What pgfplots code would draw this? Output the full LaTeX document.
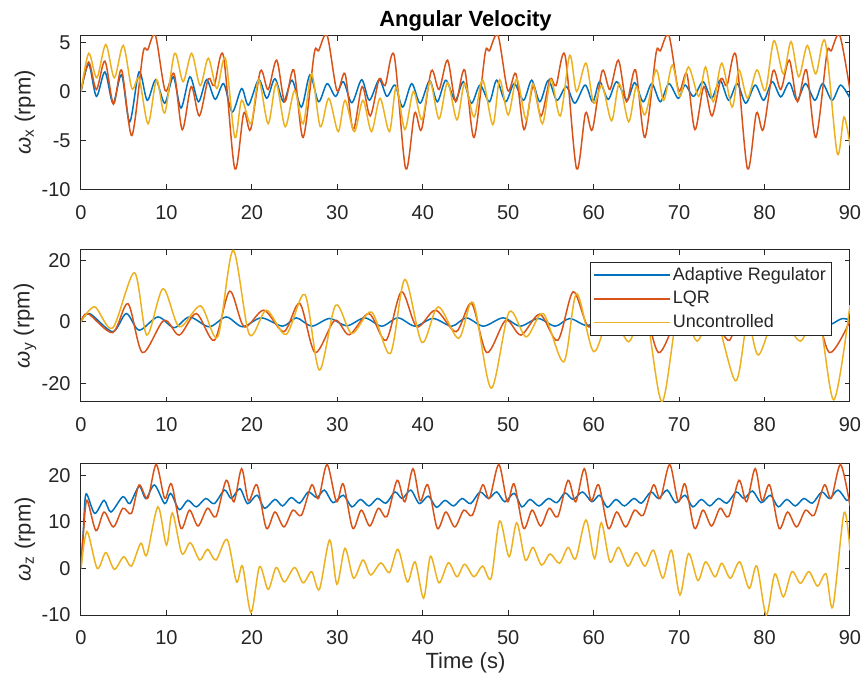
\documentclass[border=0pt]{standalone}
\usepackage{pgfplots}
\pgfplotsset{compat=1.18}
\usepackage{fontspec}
\setmainfont{Liberation Sans}

\definecolor{mblue}{rgb}{0,0.447,0.741}
\definecolor{mred}{rgb}{0.85,0.325,0.098}
\definecolor{myellow}{rgb}{0.929,0.694,0.125}
\definecolor{axgray}{rgb}{0.15,0.15,0.15}

\pgfplotsset{
  panel/.style={
    scale only axis, width=384.5pt,
    xmin=0, xmax=90, xtick={0,10,...,90},
    axis line style={axgray, line width=0.5pt},
    every tick/.style={axgray, line width=0.5pt},
    major tick length=2.5pt,
    tick align=inside,
    ticklabel style={font=\fontsize{10}{11}\selectfont, text=axgray},
    xticklabel style={yshift=-4.4pt},
    yticklabel style={xshift=-1.7pt},
    label style={font=\fontsize{11}{12}\selectfont, text=axgray},
    /pgf/number format/assume math mode=true,
    ylabel style={at={(axis description cs:-0.0728,0.5)}, anchor=center},
    every axis plot/.append style={line width=0.75pt, smooth, no markers},
  }
}

\begin{document}
\begin{tikzpicture}
\useasboundingbox (0pt,0pt) rectangle (432pt,-337.5pt);

% ---------------- omega_x ----------------
\begin{axis}[panel, height=76.8pt,
  at={(40.5pt,-94.65pt)}, anchor=south west,
  ymin=-10, ymax=5.7, ytick={-10,-5,0,5},
  ylabel={\textit{ω}\textsubscript{x} (rpm)},
  title={Angular Velocity},
  title style={font=\bfseries\fontsize{11}{12}\selectfont, text=black,
    at={(axis description cs:0.5,1)}, anchor=center, yshift=1.5pt},
]
\addplot[mblue] coordinates {
(0,0) (0.9,2.8) (1.8,-0.5) (2.8,2.0) (3.75,-1.2) (4.75,1.7) (5.7,-3.1) (6.8,2.0)
(7.75,-0.9) (8.75,1.2) (9.8,-1.2) (10.8,1.5) (11.7,-1.7) (12.75,1.5) (13.75,-1.05)
(14.7,1.2) (15.7,-0.8) (16.7,0.8) (17.7,-2.1) (18.8,0.3) (19.6,-1.4) (20.8,1.2)
(21.75,-0.7) (22.7,1.3) (23.7,-1.05) (24.7,1.15) (25.8,-1.6) (26.8,1.7) (27.8,-1.05)
(28.8,0.8) (29.8,-0.5) (30.7,1.0) (31.7,-1.15) (32.85,1.2) (33.75,-0.9) (34.9,1.2)
(35.8,-0.5) (36.75,0.65) (37.65,-1.6) (38.7,0.8) (39.7,-1.2) (40.8,1.1) (41.7,-1.05)
(42.7,1.15) (43.8,-0.9) (44.75,1.0) (45.7,-1.2) (46.7,0.65) (47.8,-1.05) (48.65,1.15)
(49.7,-1.05) (50.7,0.8) (51.8,-0.9) (52.75,1.15) (53.7,-1.05) (54.7,1.15) (55.7,-0.9)
(56.8,0.5) (57.8,-1.2) (59.0,0.65) (59.9,-1.05) (60.7,1.0) (61.7,-0.8) (62.7,1.0)
(63.9,-0.9) (64.8,0.9) (65.8,-1.05) (66.8,0.8) (67.8,-1.05) (68.8,0.8) (69.9,-0.7)
(70.7,0.65) (71.7,-0.5) (72.8,1.0) (73.8,-0.7) (74.8,1.15) (75.8,-0.9) (76.8,0.8)
(77.8,-1.2) (78.9,0.65) (79.9,-0.9) (80.9,1.0) (81.9,-0.55) (82.9,0.9) (83.8,-0.9)
(84.8,0.8) (85.9,-0.9) (86.8,0.8) (87.9,-0.9) (88.9,0.65) (90,-0.7)
};
\addplot[mred] coordinates {
(0,0) (0.9,3.0) (1.8,0.2) (2.8,3.1) (3.8,-1.3) (4.75,2.2) (5.95,-4.5) (7.25,3.9)
(7.8,4.25) (8.7,5.75) (9.85,0.1)
(10.9,1.8) (11.85,-3.9) (12.9,0.5) (13.85,-2.5) (14.9,1.3) (15.6,0.6) (16.65,3.7)
(18.0,-7.9) (19.05,-2.2) (19.85,-3.9) (21.0,2.1) (21.9,0.2) (22.9,3.2) (23.85,-1.05)
(24.9,2.2) (26.0,-4.7) (27.3,3.9) (27.8,4.15) (28.8,5.75) (29.95,0.1)
(30.9,1.8) (31.85,-3.9) (32.9,0.5) (33.85,-2.5) (34.9,1.3) (35.6,0.6) (36.65,3.7)
(38.0,-7.9) (39.05,-2.2) (39.85,-3.9) (41.0,2.1) (41.9,0.2) (42.9,3.2) (43.85,-1.05)
(44.9,2.2) (46.0,-4.7) (47.3,3.9) (47.8,4.15) (48.8,5.75) (49.95,0.1)
(50.9,1.8) (51.85,-3.9) (52.9,0.5) (53.85,-2.5) (54.9,1.3) (55.6,0.6) (56.65,3.7)
(58.0,-7.9) (59.05,-2.2) (59.85,-3.9) (61.0,2.1) (61.9,0.2) (62.9,3.2) (63.85,-1.05)
(64.9,2.2) (66.0,-4.7) (67.3,3.9) (67.8,4.15) (68.8,5.75) (69.95,0.1)
(70.9,1.8) (71.85,-3.9) (72.9,0.5) (73.85,-2.5) (74.9,1.3) (75.6,0.6) (76.65,3.7)
(78.0,-7.9) (79.05,-2.2) (79.85,-3.9) (81.0,2.1) (81.9,0.2) (82.9,3.2) (83.85,-1.05)
(84.9,2.2) (86.0,-4.7) (87.3,3.9) (87.8,4.15) (88.8,5.75) (90,0.1)
};
\addplot[myellow] coordinates {
(0,0) (0.9,3.9) (1.85,1.4) (2.9,4.8) (3.9,1.4) (4.95,4.7) (5.95,0.3) (6.8,1.3)
(7.85,-3.3) (8.85,1.2) (9.8,-2.2) (10.95,3.9) (11.95,1.0) (12.95,3.9) (13.95,0.6)
(14.9,3.4) (15.9,0.3) (16.9,3.4) (18.0,-4.7) (18.8,-0.9) (19.9,-3.3) (20.8,1.2)
(21.9,-3.3) (22.85,0.8) (23.9,-3.6) (25.0,0.1) (26.0,-3.3) (27.0,1.8) (28.0,-3.6)
(29.0,-0.7) (30.1,-4.1) (30.9,-0.9) (32.0,-4.1) (33.0,-0.9) (34.0,-4.1) (35.0,-0.7)
(36.1,-4.1) (36.9,0.5) (37.9,-3.9) (38.9,0.0) (39.9,-2.9) (40.85,1.0) (41.9,-2.8)
(42.9,0.9) (44.0,-2.9) (44.9,0.8) (46.0,-2.6) (47.0,1.2) (48.2,-3.4) (49.0,1.2)
(50.0,-2.4) (51.0,1.3) (52.1,-2.9) (52.9,0.8) (54.0,-3.3) (55.0,1.2) (56.1,-2.5)
(57.2,3.7) (58.0,0.0) (59.1,2.9) (60.0,-1.2) (61.0,0.6) (62.1,-3.0) (63.0,0.8)
(64.1,-3.1) (65.0,0.5) (66.0,-2.4) (67.3,2.2) (68.2,-0.9) (69.2,2.7) (70.1,-0.5)
(71.1,2.5) (72.3,-0.5) (73.1,2.5) (74.0,-1.05) (75.0,2.9) (76.2,-1.6) (77.0,2.2)
(78.0,-0.7) (79.1,2.2) (80.1,0.1) (81.1,5.2) (82.2,1.8) (83.1,5.1) (84.0,1.5)
(85.0,4.7) (86.0,1.8) (87.1,5.1) (88.5,-6.3) (89.3,-2.6) (90,-5.5)
};
\end{axis}

% ---------------- omega_y ----------------
\begin{axis}[panel, height=75.85pt,
  at={(40.5pt,-200.85pt)}, anchor=south west,
  ymin=-26, ymax=23.4, ytick={-20,0,20},
  ylabel={\textit{ω}\textsubscript{y} (rpm)},
  legend style={at={(axis description cs:0.976,0.923)}, anchor=north east,
    draw=axgray, line width=0.5pt, fill=white,
    font=\fontsize{9}{10}\selectfont, text=axgray,
    inner xsep=1.5pt, inner ysep=1.2pt, row sep=1.2pt,
    nodes={inner sep=1pt, text height=6.8pt, text depth=1.8pt}},
  legend cell align=left,
  legend image code/.code={\path (0pt,0pt) -- (38pt,0pt);
    \draw[#1, line width=0.65pt] (3.5pt,0pt) -- (38pt,0pt);},
]
\addplot[mblue] coordinates {
(0,0) (1.0,2.7) (3.7,-3.2) (5.3,2.7) (6.8,-2.7) (9.0,1.6) (10.9,-1.9) (12.7,1.6)
(15.0,-1.6) (17.0,1.6) (18.9,-1.6) (21.1,1.3) (23.6,-1.4) (25.2,1.3) (27.0,-1.4)
(29.1,1.1) (31.1,-1.3) (33.2,1.3) (35.2,-1.4) (37.1,1.3) (39.1,-1.4) (41.2,1.1)
(43.4,-1.4) (45.1,1.3) (47.1,-1.4) (49.4,1.3) (51.4,-1.4) (53.5,1.1) (55.5,-1.4)
(57.2,1.1) (59.2,-1.2) (61.3,1.1) (63.3,-1.3) (65.3,1.2) (67.3,-1.3) (69.3,1.1)
(71.3,-1.3) (73.3,1.2) (75.3,-1.3) (77.3,1.1) (79.3,-1.3) (81.3,1.2) (83.3,-1.3)
(85.3,1.1) (87.3,-1.2) (89.0,1.0) (90,0.6)
};
\addlegendentry{Adaptive Regulator}
\addplot[mred] coordinates {
(0,0) (0.8,2.7) (3.7,-3.5) (5.5,5.9) (7.2,-10.0) (9.7,0.5) (11.5,-4.3) (13.5,2.7)
(15.6,-6.0) (17.4,10.0) (19.1,-1.6) (21.4,3.8) (23.75,-3.2) (25.6,6.0) (27.4,-10.0)
(29.7,0.5) (31.4,-4.2) (33.7,2.7) (35.7,-6.0) (37.5,9.8) (39.3,-1.6) (41.5,3.8)
(43.9,-3.2) (45.7,6.0) (47.5,-10.0) (49.7,0.5) (51.5,-4.3) (53.7,2.5) (55.8,-6.0)
(57.6,9.8) (59.4,-1.6) (61.5,3.8) (63.9,-3.2) (65.7,6.0) (67.6,-10.0) (69.8,0.5)
(71.8,-4.5) (73.7,2.6) (75.9,-6.0) (77.6,9.8) (79.4,-1.6) (81.5,3.8) (83.9,-3.2)
(85.7,6.0) (87.6,-10.0) (90,0.3)
};
\addlegendentry{LQR}
\addplot[myellow] coordinates {
(0,0) (1.6,4.9) (3.7,-2.0) (6.25,16.0) (7.7,-4.3) (9.6,10.8) (11.5,-1.6) (14.0,5.2)
(16.0,-4.9) (17.8,23.3) (19.7,-4.1) (21.7,3.8) (24.0,-4.1) (26.2,8.9) (27.9,-15.7)
(29.8,5.4) (31.7,-3.8) (34.0,3.2) (36.2,-10.3) (37.9,13.8) (39.9,-6.7) (41.8,4.9)
(44.2,-5.4) (45.9,6.3) (48.0,-21.6) (50.1,3.2) (52.1,-4.9) (54.1,2.7) (56.5,-13.0)
(58.0,9.2) (60.0,-9.7) (62.0,3.0) (64.1,-6.5) (66.0,4.0) (68.0,-26.0) (70.0,5.0)
(72.1,-6.3) (74.0,4.0) (76.6,-19.2) (78.0,0.0) (79.3,-10.8) (81.5,3.0) (84.2,-6.3)
(86.2,4.0) (88.1,-25.4) (90,5.4)
};
\addlegendentry{Uncontrolled}
\end{axis}

% ---------------- omega_z ----------------
\begin{axis}[panel, height=75.5pt,
  at={(40.5pt,-307.5pt)}, anchor=south west,
  ymin=-10, ymax=22.4, ytick={-10,0,10,20},
  ylabel={\textit{ω}\textsubscript{z} (rpm)},
  xlabel={Time (s)},
  xlabel style={at={(axis description cs:0.5,0)}, anchor=center, yshift=-24pt},
]
\addplot[mblue] coordinates {
(0,0) (0.3,9.0) (0.6,16.0) (1.6,11.8) (2.7,14.6) (3.5,12.1) (4.9,15.4) (5.7,13.9)
(6.8,17.6) (7.6,15.0) (8.6,17.9) (9.8,13.9)
(10.5,16.1) (11.5,12.6) (12.5,14.6) (13.5,13.2) (14.6,15.0) (15.6,13.9) (16.8,16.8)
(17.6,15.0) (18.6,17.1) (19.5,13.9)
(20.6,15.7) (21.5,12.9) (22.7,14.8) (23.6,13.4) (24.6,15.2) (25.6,14.0) (26.6,16.4)
(27.6,15.2) (28.5,16.8) (29.5,14.1)
(30.7,15.7) (31.7,13.2) (32.7,14.8) (33.7,13.4) (34.7,15.0) (35.7,14.0) (36.75,16.4)
(37.6,15.0) (38.6,16.8) (39.6,13.9)
(40.65,15.5) (41.6,13.1) (42.6,14.6) (43.6,13.4) (44.6,15.0) (45.6,13.9) (46.7,16.4)
(47.7,15.0) (48.65,16.4) (49.6,14.3)
(50.7,16.1) (51.6,13.2) (52.55,14.8) (53.6,13.4) (54.7,15.0) (55.7,14.1) (56.65,16.2)
(57.6,14.8) (58.7,16.4) (59.8,14.3)
(60.7,15.7) (61.6,13.1) (62.6,14.8) (63.6,13.4) (64.7,15.0) (65.6,14.0) (66.7,16.4)
(67.6,15.0) (68.6,16.8) (69.6,14.1)
(70.7,15.7) (71.6,13.2) (72.6,14.8) (73.6,13.4) (74.6,15.0) (75.6,14.0) (76.7,16.4)
(77.6,15.0) (78.6,16.6) (79.6,14.1)
(80.7,15.7) (81.6,13.2) (82.6,14.8) (83.6,13.4) (84.6,15.0) (85.6,14.0) (86.7,16.4)
(87.6,15.0) (88.6,16.8) (89.6,14.6) (90,15.0)
};
\addplot[mred] coordinates {
(0,0) (0.3,8.0) (0.7,14.6) (1.75,8.1) (2.7,12.1) (3.8,8.9) (4.9,12.9) (5.9,11.8)
(6.8,17.9) (7.8,15.0) (8.8,22.3) (9.8,15.0)
(10.6,18.1) (11.7,8.6) (12.7,12.5) (13.7,9.1) (14.8,12.9) (15.8,11.1) (17.0,18.9)
(17.9,14.3) (18.8,21.4) (19.6,14.5) (20.6,17.9) (21.7,8.6) (22.7,12.1) (23.75,8.9)
(24.8,12.5) (25.8,11.4) (27.0,17.9) (27.8,15.0) (28.8,22.3) (29.9,14.3)
(30.7,18.1) (31.8,8.6) (32.8,12.5) (33.8,9.1) (34.8,12.9) (35.8,11.1) (37.0,18.9)
(37.9,14.3) (38.85,21.4) (39.7,14.5) (40.6,17.9) (41.7,8.6) (42.7,12.1) (43.75,8.9)
(44.8,12.5) (45.8,11.4) (47.0,17.9) (47.8,15.0) (48.9,22.3) (49.9,14.3)
(50.7,18.1) (51.8,8.6) (52.8,12.5) (53.8,9.1) (54.8,12.9) (55.8,11.1) (57.0,18.9)
(57.9,14.3) (58.9,21.4) (59.7,14.5) (60.6,17.9) (61.7,8.6) (62.7,12.1) (63.75,8.9)
(64.8,12.5) (65.8,11.4) (67.0,17.9) (67.8,15.0) (68.9,22.3) (69.9,14.3)
(70.7,18.1) (71.8,8.6) (72.8,12.5) (73.8,9.1) (74.8,12.9) (75.8,11.1) (77.0,18.9)
(77.9,14.3) (78.9,21.4) (79.7,14.5) (80.6,17.9) (81.7,8.6) (82.7,12.1) (83.75,8.9)
(84.8,12.5) (85.8,11.4) (87.0,17.9) (87.8,15.0) (88.9,22.3) (90,13.5)
};
\addplot[myellow] coordinates {
(0,0) (0.7,7.9) (1.9,0.0) (2.9,3.4) (3.9,-0.2) (5.0,2.5) (5.9,0.5) (7.0,5.4)
(7.7,2.9) (9.0,13.2) (10.0,5.0) (10.7,11.9) (11.8,3.2) (12.8,5.5) (13.9,1.8)
(14.8,4.1) (15.8,1.8) (17.1,6.2) (18.2,-2.9) (18.9,0.5) (19.9,-9.5) (20.9,0.4)
(21.9,-4.5) (22.85,0.2) (23.8,-2.9) (25.0,0.2) (26.0,-3.1) (27.0,-0.7) (27.9,-4.5)
(29.1,6.1) (29.95,-3.4) (30.9,4.3) (31.9,-2.1) (33.0,1.8) (33.9,-1.4) (35.1,1.2)
(36.1,-0.9) (37.1,4.1) (38.2,-2.9) (39.1,1.4) (40.1,-6.4) (40.9,2.6) (41.9,-3.1)
(43.0,1.2) (44.0,-1.8) (44.9,0.9) (46.0,-1.8) (47.0,0.5) (48.0,-2.1) (49.0,10.2)
(50.1,2.5) (51.0,9.8) (52.0,1.8) (52.9,4.5) (53.9,0.7) (54.9,3.1) (56.0,1.1)
(57.0,4.5) (57.9,2.1) (59.1,10.4) (60.1,2.1) (60.9,9.8) (61.9,1.4) (62.9,4.5)
(64.0,0.5) (65.0,3.4) (66.0,0.5) (67.0,3.9) (68.1,-2.1) (69.1,3.9) (70.1,-5.7)
(71.1,3.2) (72.2,-2.6) (73.1,1.4) (74.2,-1.8) (75.0,1.1) (76.0,-2.1) (77.1,1.4)
(78.2,-4.3) (79.1,0.5) (80.2,-10.0) (81.2,-1.2) (82.2,-6.1) (83.2,-0.7) (84.2,-3.2)
(85.2,-0.7) (86.2,-3.8) (87.2,-1.2) (88.0,-8.2) (89.3,11.9) (90,3.9)
};
\end{axis}
\end{tikzpicture}
\end{document}
